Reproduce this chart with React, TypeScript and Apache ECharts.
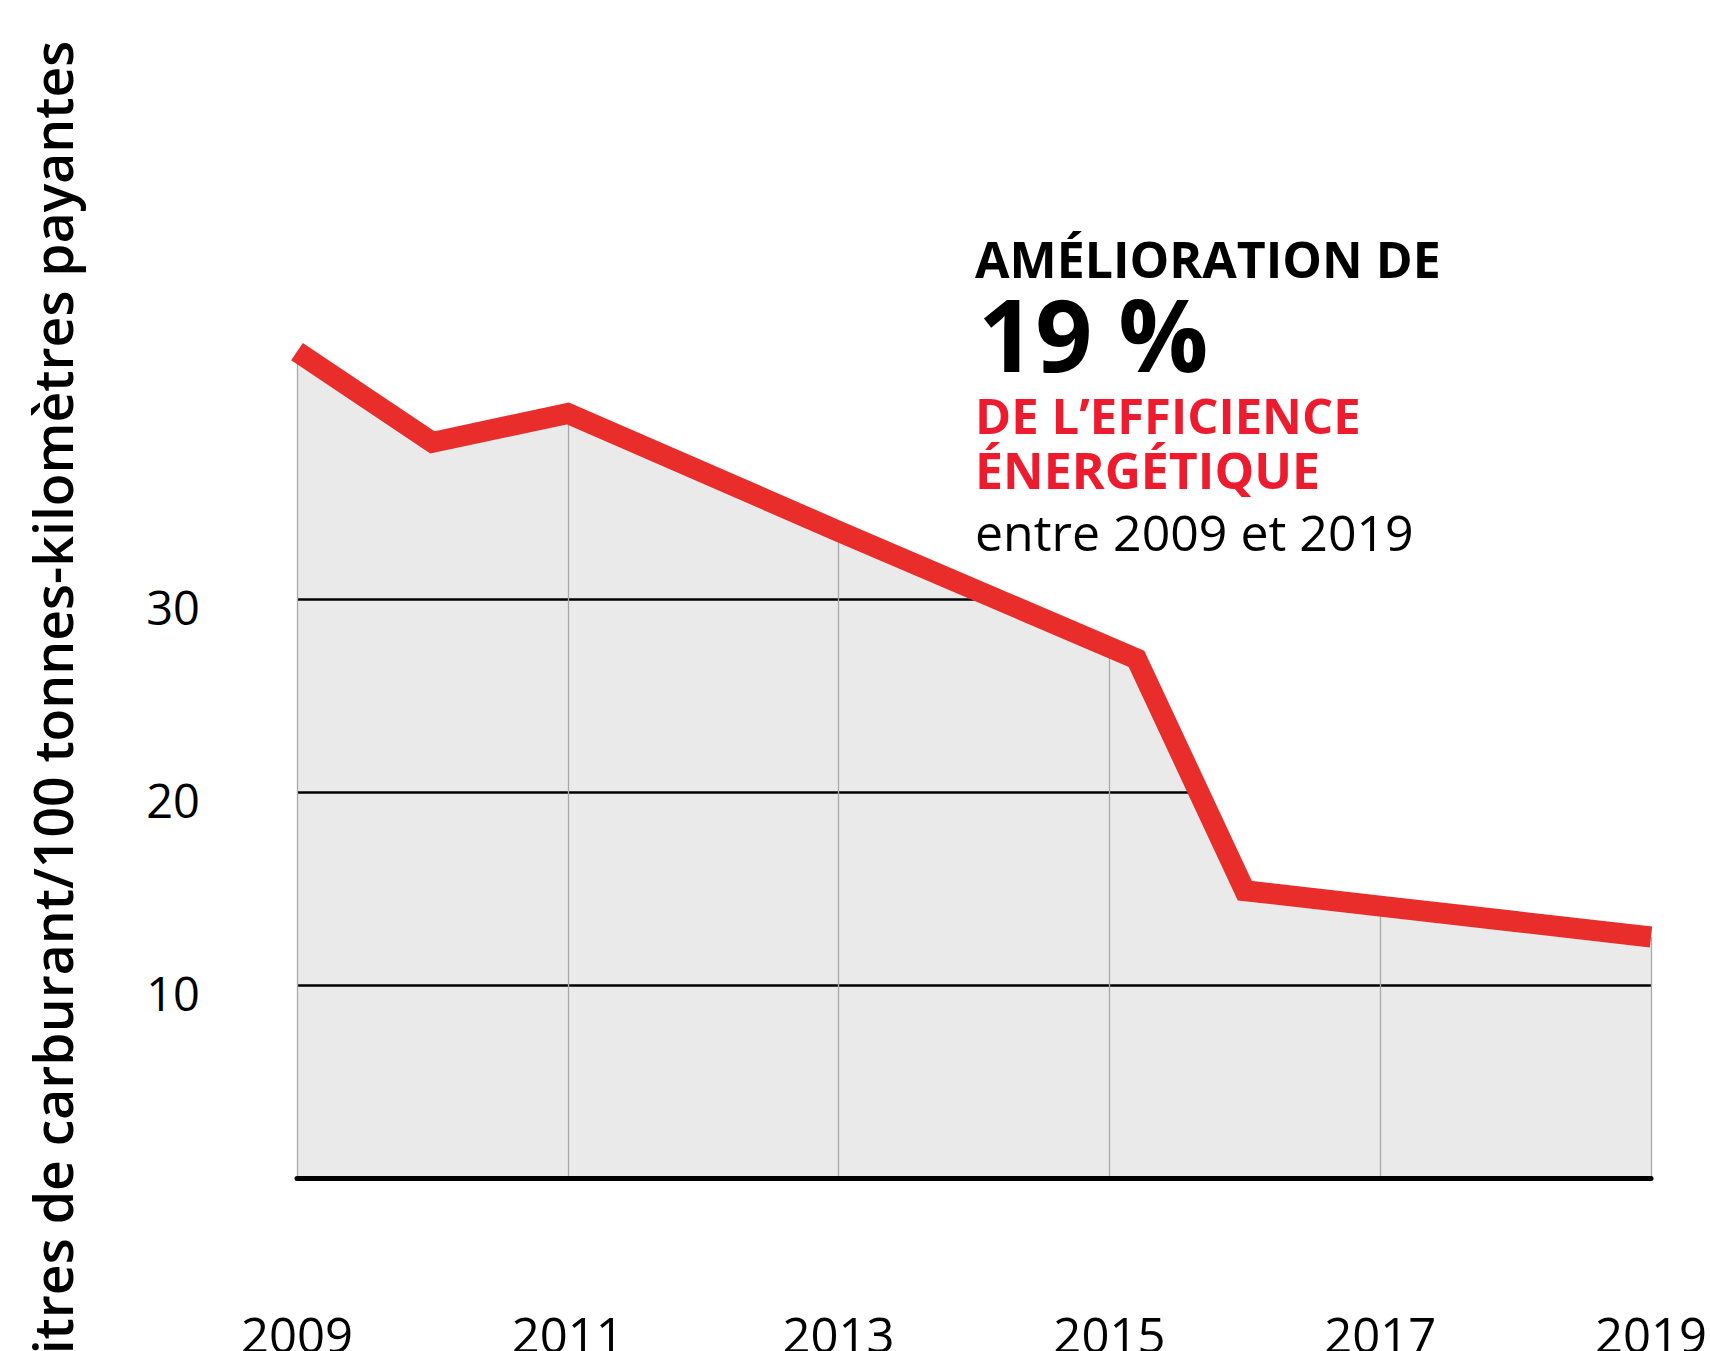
import React, { useEffect, useRef } from "react";
import * as echarts from "echarts";

// ---- Data ----
const years: number[] = [2009, 2010, 2011, 2013, 2015.2, 2016, 2017, 2018, 2019];
const values: number[] = [42.8, 38.1, 39.6, 33.5, 26.9, 14.9, 14.1, 13.3, 12.5];

const xTickLabels: number[] = [2009, 2011, 2013, 2015, 2017, 2019];
const yTickLabels: number[] = [10, 20, 30];

const yAxisTitle = "Litres de carburant/100 tonnes-kilomètres payantes";
const noteLine1 = "AMÉLIORATION DE";
const noteLine2 = "19 %";
const noteLine3 = "DE L\u2019EFFICIENCE";
const noteLine4 = "ÉNERGÉTIQUE";
const noteLine5 = "entre 2009 et 2019";

const FONT = "'Open Sans', 'Noto Sans', sans-serif";
const RED_LINE = "#e82d2b";
const RED_TEXT = "#ec1b2e";

export default function App() {
  const ref = useRef<HTMLDivElement>(null);

  useEffect(() => {
    document.body.style.margin = "0";
    if (!ref.current) return;
    const chart = echarts.init(ref.current, null, { renderer: "svg" });

    const data = years.map((y, i) => [y, values[i]]);
    const first = data[0];
    const last = data[data.length - 1];
    const maxValue = Math.max(...values);

    const markData: any[] = [];
    yTickLabels.forEach((v) => {
      markData.push({ yAxis: v, lineStyle: { color: "#000", width: 2.5, type: "solid" } });
    });
    xTickLabels.forEach((yr) => {
      const ls = { color: "#a9a9a9", width: 1.3, type: "solid" };
      let top = maxValue;
      if (yr === first[0]) top = first[1];
      else if (yr === last[0]) top = last[1];
      markData.push([{ coord: [yr, 0], lineStyle: ls }, { coord: [yr, top] }]);
    });

    const option: any = {
      animation: false,
      backgroundColor: "#ffffff",
      textStyle: { fontFamily: FONT },
      grid: {
        left: 297,
        right: 59,
        top: 212.5,
        bottom: 172.5,
        containLabel: false,
        outerBoundsMode: "none",
      },
      xAxis: {
        type: "value",
        min: 2009,
        max: 2019,
        interval: 1,
        z: 10,
        axisLine: { show: true, onZero: true, lineStyle: { color: "#000", width: 5 } },
        axisTick: { show: false },
        splitLine: { show: false },
        axisLabel: {
          show: true,
          margin: 131,
          fontSize: 49,
          color: "#000",
          fontFamily: FONT,
          showMinLabel: true,
          showMaxLabel: true,
          formatter: (v: number) => (xTickLabels.indexOf(Math.round(v)) >= 0 ? String(Math.round(v)) : ""),
        },
      },
      yAxis: {
        type: "value",
        min: 0,
        max: 50,
        interval: 10,
        axisLine: { show: false },
        axisTick: { show: false },
        splitLine: { show: false },
        axisLabel: {
          show: true,
          margin: 97,
          fontSize: 47,
          color: "#000",
          fontFamily: FONT,
          verticalAlign: "top",
          lineHeight: 16,
          formatter: (v: number) => (yTickLabels.indexOf(v) >= 0 ? String(v) : ""),
        },
      },
      series: [
        {
          name: "Zone",
          type: "line",
          data,
          symbol: "none",
          silent: true,
          z: 1,
          lineStyle: { width: 0, opacity: 0 },
          areaStyle: { color: "#eaeaea", opacity: 1, origin: "start" },
        },
        {
          name: "Quadrillage",
          type: "line",
          data,
          symbol: "none",
          silent: true,
          z: 2,
          lineStyle: { width: 0, opacity: 0 },
          markLine: {
            z: 2,
            silent: true,
            symbol: ["none", "none"],
            label: { show: false },
            emphasis: { disabled: true },
            data: markData,
          },
        },
        {
          name: "Couverture",
          type: "line",
          data,
          symbol: "none",
          silent: true,
          z: 3,
          lineStyle: { width: 0, opacity: 0 },
          areaStyle: { color: "#ffffff", opacity: 1, origin: "end" },
        },
        {
          name: "Consommation",
          type: "line",
          data,
          symbol: "none",
          silent: true,
          z: 4,
          lineStyle: { color: RED_LINE, width: 21, cap: "butt", join: "miter", miterLimit: 10 },
        },
      ],
      graphic: {
        elements: [
          {
            type: "text",
            x: 52,
            y: 712,
            rotation: Math.PI / 2,
            z: 100,
            style: {
              text: yAxisTitle,
              fill: "#000",
              fontSize: 53.5,
              fontWeight: 600,
              fontFamily: FONT,
              align: "center",
              verticalAlign: "middle",
            },
          },
          {
            type: "text",
            x: 975,
            y: 259,
            z: 100,
            style: { text: noteLine1, fill: "#000", fontSize: 50, fontWeight: "bold", fontFamily: FONT, align: "left", verticalAlign: "middle" },
          },
          {
            type: "text",
            x: 978,
            y: 333,
            z: 100,
            style: { text: noteLine2, fill: "#000", fontSize: 100, fontWeight: "bold", fontFamily: FONT, align: "left", verticalAlign: "middle" },
          },
          {
            type: "text",
            x: 975,
            y: 415,
            z: 100,
            style: { text: noteLine3, fill: RED_TEXT, fontSize: 49, fontWeight: "bold", fontFamily: FONT, align: "left", verticalAlign: "middle" },
          },
          {
            type: "text",
            x: 975,
            y: 470,
            z: 100,
            style: { text: noteLine4, fill: RED_TEXT, fontSize: 50, fontWeight: "bold", fontFamily: FONT, align: "left", verticalAlign: "middle" },
          },
          {
            type: "text",
            x: 975,
            y: 532,
            z: 100,
            style: { text: noteLine5, fill: "#000", fontSize: 50, fontWeight: "normal", fontFamily: FONT, align: "left", verticalAlign: "middle" },
          },
        ],
      },
    };

    chart.setOption(option);
    return () => chart.dispose();
  }, []);

  return <div ref={ref} style={{ width: 1710, height: 1351, overflow: "hidden" }} />;
}
